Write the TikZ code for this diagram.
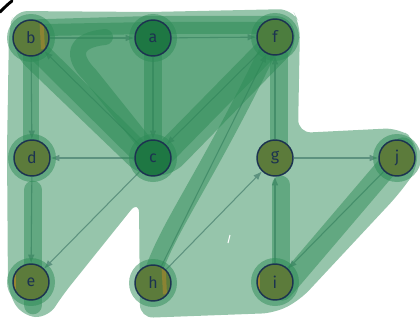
\documentclass[tikz,border=0pt]{standalone}
\usepackage{fontspec}
\setmainfont{Fira Sans}
\usetikzlibrary{arrows.meta}
\definecolor{hl}{HTML}{2E8B57}
\definecolor{nodeolive}{HTML}{5C7B3B}
\definecolor{nodedeep}{HTML}{1E7743}
\definecolor{nodemid}{HTML}{4C7D3E}
\definecolor{ink}{HTML}{1C3350}
\definecolor{edgegray}{HTML}{8E9BA8}
\definecolor{amber}{HTML}{B38A2E}
\pgfdeclarelayer{lines}
\pgfdeclarelayer{tint}
\pgfsetlayers{lines,tint,main}
\begin{document}
\begin{tikzpicture}[x=0.75pt,y=-0.75pt,
  vertex/.style={circle, draw=ink, line width=1.1pt, fill=nodeolive,
    minimum size=27pt, inner sep=0pt, text=ink,
    font=\fontsize{12}{14}\selectfont},
  % warm smudge at the left rim of a vertex
  smudgeleft/.style={path picture={\fill[amber, opacity=0.7]
    ([xshift=-2pt]path picture bounding box.south west) rectangle
    ([xshift=2.5pt]path picture bounding box.north west);}},
  % warm streak on the right side of a vertex
  smudgeright/.style={path picture={\fill[amber, opacity=0.55]
    ([xshift=-7pt,yshift=-3pt]path picture bounding box.north east) --
    ([xshift=-4pt,yshift=-3pt]path picture bounding box.north east) --
    ([xshift=-3pt,yshift=5pt]path picture bounding box.south east) --
    ([xshift=-6pt,yshift=5pt]path picture bounding box.south east) -- cycle;}},
  link/.style={draw=edgegray, line width=0.8pt,
    -{Latex[length=6.5pt,width=5pt]}},
  wash/.style={fill=hl, opacity=0.5},
  band/.style={draw=hl, opacity=0.5, line cap=round, line join=round},
  halo/.style={fill=hl, opacity=0.5}]
\useasboundingbox (0,0) rectangle (420,321);

% vertices
\node[vertex, smudgeright] (b) at (31,38) {b};
\node[vertex, fill=nodedeep] (a) at (153,38) {a};
\node[vertex, fill=nodemid] (f) at (275,37) {f};
\node[vertex] (d) at (32,158) {d};
\node[vertex, fill=nodedeep] (c) at (153,158) {c};
\node[vertex] (g) at (275,158) {g};
\node[vertex] (j) at (397,158) {j};
\node[vertex, smudgeleft] (e) at (31,282) {e};
\node[vertex, smudgeleft, smudgeright] (h) at (153,283) {h};
\node[vertex, smudgeleft] (i) at (275,282) {i};

% directed edges
\begin{pgfonlayer}{lines}
\draw[link] (b) -- (a);
\draw[link] (a) -- (f);
\draw[link] (b) -- (d);
\draw[link] (a) -- (c);
\draw[link] (c) -- (b);
\draw[link] (c) -- (d);
\draw[link] (f) -- (c);
\draw[link] (c) -- (e);
\draw[link] (d) -- (e);
\draw[link] (g) -- (f);
\draw[link] (h) -- (f);
\draw[link] (h) -- (g);
\draw[link] (g) -- (j);
\draw[link] (i) -- (g);
\draw[link] (j) -- (i);
\end{pgfonlayer}

% translucent highlighting
\begin{pgfonlayer}{tint}
\fill[wash, rounded corners=10pt] (9,30) -- (14,11) -- (150,12) -- (292,9)
  -- (300,24) -- (298,133) -- (398,128) -- (416,140) -- (418,168)
  -- (398,195) -- (300,300) -- (275,313) -- (140,318) -- (139,200)
  -- (62,296) -- (48,318) -- (22,316) -- (8,292) -- (7,150) -- cycle;
\fill[wash, rounded corners=12pt] (14,20) -- (150,16) -- (292,16)
  -- (297,48) -- (172,176) -- (140,176) -- (14,55) -- cycle;
\draw[band, line width=9pt] (45,30) -- (150,28) -- (265,28);
\draw[band, line width=13pt] (153,50) -- (153,150);
\draw[band, line width=16pt] (35,48) -- (148,160);
\draw[band, line width=12pt] (105,37) .. controls (75,40) and (70,55) .. (90,75) -- (150,150);
\draw[band, line width=17pt] (268,48) -- (158,160);
\draw[band, line width=13pt] (150,282) .. controls (165,230) and (200,190) .. (268,50);
\draw[band, line width=13pt] (279,55) -- (279,145);
\draw[band, line width=12pt] (31,50) -- (31,140);
\draw[band, line width=14pt] (33,190) -- (33,305);
\draw[band, line width=14pt] (281,185) -- (281,290);
\draw[band, line width=16pt] (403,148) -- (282,290);
\foreach \p in {(31,38),(153,38),(275,37),(32,158),(153,158),(397,158),(31,282),(153,283),(275,282)}
  \fill[halo] \p circle[radius=18pt];
\draw[line width=2.2pt, black, line cap=round] (0,12) .. controls (4,8) and (8,4) .. (12,1);
\draw[white, line width=0.8pt] (228,243) -- (230,235);
\end{pgfonlayer}
\end{tikzpicture}
\end{document}
